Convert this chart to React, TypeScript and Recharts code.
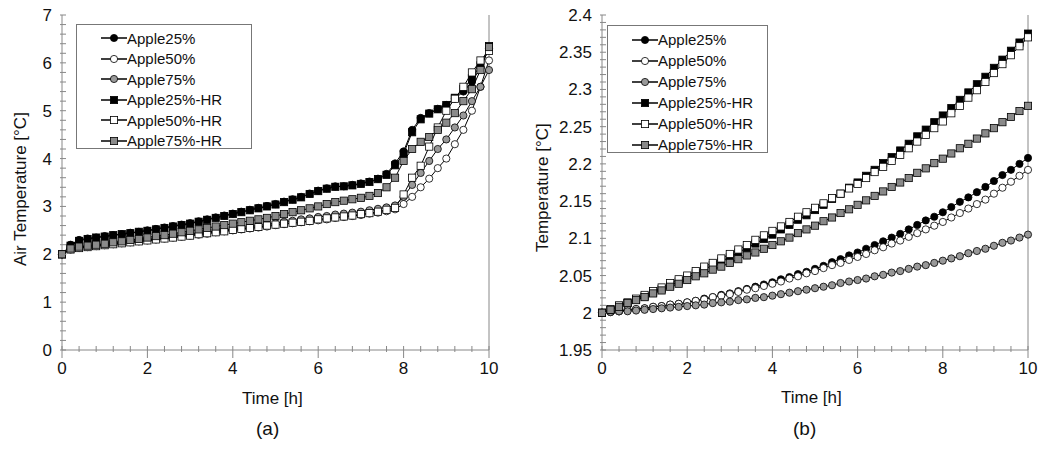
import React from "react";
import { LineChart, Line, XAxis, YAxis } from "recharts";

const time = [0,0.2,0.4,0.6,0.8,1,1.2,1.4,1.6,1.8,2,2.2,2.4,2.6,2.8,3,3.2,3.4,3.6,3.8,4,4.2,4.4,4.6,4.8,5,5.2,5.4,5.6,5.8,6,6.2,6.4,6.6,6.8,7,7.2,7.4,7.6,7.8,8,8.2,8.4,8.6,8.8,9,9.2,9.4,9.6,9.8,10];

// Chart (a): air temperature
const a25 = [2.00,2.20,2.30,2.33,2.35,2.38,2.40,2.42,2.45,2.47,2.50,2.53,2.56,2.59,2.62,2.65,2.69,2.73,2.77,2.81,2.85,2.89,2.93,2.97,3.01,3.05,3.10,3.15,3.20,3.27,3.33,3.38,3.42,3.42,3.45,3.48,3.52,3.58,3.68,3.90,4.15,4.60,4.85,4.95,5.04,5.12,5.25,5.40,5.60,5.90,6.30];
const a50 = [2.00,2.10,2.13,2.15,2.17,2.19,2.21,2.23,2.25,2.27,2.29,2.31,2.33,2.35,2.37,2.39,2.41,2.43,2.46,2.48,2.50,2.52,2.54,2.56,2.58,2.61,2.63,2.65,2.67,2.69,2.71,2.73,2.76,2.78,2.80,2.82,2.85,2.87,2.90,2.94,3.05,3.20,3.40,3.58,3.80,4.00,4.30,4.60,5.00,5.50,6.05];
const a75 = [2.00,2.12,2.15,2.17,2.19,2.21,2.23,2.25,2.27,2.29,2.31,2.33,2.35,2.37,2.40,2.42,2.44,2.46,2.49,2.51,2.53,2.56,2.58,2.60,2.63,2.65,2.68,2.70,2.73,2.75,2.78,2.80,2.83,2.85,2.87,2.89,2.92,2.95,2.98,3.02,3.20,3.45,3.70,3.95,4.20,4.40,4.65,4.90,5.20,5.50,5.85];
const a25hr = [2.00,2.18,2.28,2.32,2.35,2.37,2.40,2.42,2.44,2.47,2.49,2.52,2.55,2.58,2.61,2.64,2.68,2.72,2.76,2.80,2.84,2.88,2.92,2.96,3.00,3.04,3.09,3.14,3.19,3.26,3.32,3.37,3.41,3.42,3.44,3.47,3.51,3.57,3.66,3.86,4.10,4.55,4.82,4.94,5.03,5.12,5.27,5.45,5.68,5.95,6.35];
const a50hr = [2.00,2.10,2.13,2.15,2.17,2.19,2.21,2.23,2.25,2.27,2.29,2.31,2.33,2.35,2.37,2.39,2.42,2.44,2.46,2.48,2.51,2.53,2.55,2.57,2.60,2.62,2.64,2.66,2.68,2.70,2.73,2.75,2.77,2.79,2.81,2.84,2.86,2.89,2.93,2.97,3.25,3.60,3.85,4.25,4.65,5.00,5.25,5.50,5.80,6.05,6.25];
const a75hr = [2.00,2.12,2.16,2.18,2.20,2.22,2.25,2.27,2.30,2.32,2.35,2.38,2.40,2.43,2.46,2.49,2.52,2.55,2.58,2.61,2.64,2.67,2.70,2.73,2.76,2.80,2.84,2.88,2.92,2.96,3.00,3.05,3.09,3.12,3.15,3.18,3.22,3.28,3.40,3.60,3.95,4.20,4.35,4.45,4.60,4.75,4.95,5.20,5.45,5.85,6.33];

// Chart (b): temperature
const b25 = [2.000,2.001,2.002,2.004,2.005,2.006,2.008,2.009,2.011,2.012,2.014,2.016,2.019,2.021,2.024,2.026,2.029,2.032,2.035,2.038,2.041,2.045,2.048,2.052,2.055,2.059,2.063,2.068,2.072,2.077,2.081,2.086,2.091,2.096,2.101,2.106,2.112,2.118,2.124,2.129,2.135,2.142,2.149,2.155,2.162,2.169,2.177,2.185,2.192,2.200,2.208];
const b50 = [2.000,2.001,2.002,2.004,2.005,2.006,2.008,2.009,2.011,2.012,2.014,2.016,2.018,2.021,2.023,2.025,2.028,2.031,2.033,2.036,2.039,2.042,2.046,2.049,2.053,2.056,2.060,2.064,2.067,2.071,2.075,2.079,2.084,2.088,2.093,2.097,2.102,2.107,2.112,2.117,2.122,2.128,2.134,2.140,2.146,2.152,2.160,2.168,2.176,2.184,2.192];
const b75 = [2.000,2.001,2.002,2.002,2.003,2.004,2.005,2.006,2.007,2.008,2.009,2.010,2.011,2.013,2.014,2.015,2.017,2.018,2.020,2.021,2.023,2.025,2.027,2.029,2.031,2.033,2.035,2.037,2.040,2.042,2.044,2.046,2.049,2.051,2.054,2.056,2.059,2.062,2.064,2.067,2.070,2.073,2.076,2.080,2.083,2.086,2.090,2.094,2.097,2.101,2.105];
const b25hr = [2.000,2.004,2.009,2.013,2.018,2.022,2.027,2.032,2.037,2.042,2.047,2.053,2.058,2.064,2.069,2.075,2.081,2.087,2.093,2.099,2.105,2.112,2.118,2.125,2.131,2.138,2.145,2.153,2.160,2.168,2.175,2.184,2.192,2.201,2.209,2.218,2.227,2.237,2.246,2.256,2.265,2.275,2.286,2.296,2.307,2.317,2.329,2.340,2.352,2.363,2.375];
const b50hr = [2.000,2.005,2.010,2.014,2.019,2.024,2.029,2.034,2.040,2.045,2.050,2.056,2.062,2.067,2.073,2.079,2.085,2.091,2.098,2.104,2.110,2.116,2.122,2.129,2.135,2.141,2.147,2.154,2.160,2.167,2.173,2.181,2.189,2.196,2.204,2.212,2.221,2.230,2.239,2.248,2.257,2.268,2.278,2.289,2.299,2.310,2.322,2.334,2.346,2.358,2.370];
const b75hr = [2.000,2.004,2.008,2.013,2.017,2.021,2.026,2.030,2.035,2.039,2.044,2.049,2.053,2.058,2.062,2.067,2.072,2.077,2.081,2.086,2.091,2.096,2.101,2.107,2.112,2.117,2.123,2.128,2.134,2.139,2.145,2.151,2.157,2.163,2.169,2.175,2.181,2.188,2.194,2.201,2.207,2.214,2.221,2.227,2.234,2.241,2.248,2.256,2.263,2.271,2.278];

const seriesNames = ["Apple25%","Apple50%","Apple75%","Apple25%-HR","Apple50%-HR","Apple75%-HR"];
const xTicks = [0,0.4,0.8,1.2,1.6,2,2.4,2.8,3.2,3.6,4,4.4,4.8,5.2,5.6,6,6.4,6.8,7.2,7.6,8,8.4,8.8,9.2,9.6,10];
const xLabels = [0,2,4,6,8,10];
const aYTicks = [0,0.2,0.4,0.6,0.8,1,1.2,1.4,1.6,1.8,2,2.2,2.4,2.6,2.8,3,3.2,3.4,3.6,3.8,4,4.2,4.4,4.6,4.8,5,5.2,5.4,5.6,5.8,6,6.2,6.4,6.6,6.8,7];
const aYLabels = [0,1,2,3,4,5,6,7];
const bYTicks = [1.95,1.96,1.97,1.98,1.99,2,2.01,2.02,2.03,2.04,2.05,2.06,2.07,2.08,2.09,2.1,2.11,2.12,2.13,2.14,2.15,2.16,2.17,2.18,2.19,2.2,2.21,2.22,2.23,2.24,2.25,2.26,2.27,2.28,2.29,2.3,2.31,2.32,2.33,2.34,2.35,2.36,2.37,2.38,2.39,2.4];
const bYLabels = ["1.95","2","2.05","2.1","2.15","2.2","2.25","2.3","2.35","2.4"];

const styles = [
  { shape: "circle", fill: "#000" },
  { shape: "circle", fill: "#fff" },
  { shape: "circle", fill: "#999" },
  { shape: "square", fill: "#000" },
  { shape: "square", fill: "#fff" },
  { shape: "square", fill: "#8a8a8a" },
];

const FONT = "'Liberation Sans', Arial, sans-serif";
const AX = "#888";

const makeDot = (shape: string, fill: string) => (p: any) => {
  const { cx, cy, index } = p;
  if (cx == null || cy == null) return <g key={index} />;
  if (shape === "circle")
    return <circle key={index} cx={cx} cy={cy} r={3.6} fill={fill} stroke="#000" strokeWidth={0.8} />;
  return <rect key={index} x={cx - 3.6} y={cy - 3.6} width={7.2} height={7.2} fill={fill} stroke="#000" strokeWidth={0.8} />;
};

const near = (v: number, list: number[]) => list.some((l) => Math.abs(l - v) < 1e-6);

const XTick = (p: any) => {
  const { x, y, payload } = p;
  const major = near(payload.value, xLabels);
  return (
    <g>
      <line x1={x} x2={x} y1={y - 6 - (major ? 6 : 0)} y2={major ? y - 6 + 6 : y - 6 - 6} stroke={AX} />
      {major && (
        <text x={x} y={y + 16} textAnchor="middle" fontSize={17} fill="#111" fontFamily={FONT}>{payload.value}</text>
      )}
    </g>
  );
};

const makeYTick = (labels: number[] | string[]) => (p: any) => {
  const { x, y, payload } = p;
  const nums = (labels as any[]).map(Number);
  const major = near(payload.value, nums);
  const idx = nums.findIndex((n) => Math.abs(n - payload.value) < 1e-6);
  return (
    <g>
      <line x1={x + 6} x2={major ? x + 12 : x + 12} y1={y} y2={y} stroke={AX} />
      {major && (
        <text x={x - 2} y={y + 6} textAnchor="end" fontSize={17} fill="#111" fontFamily={FONT}>{String((labels as any[])[idx])}</text>
      )}
    </g>
  );
};

function Panel({ series, yDomain, yTicks, yLabels, yTitle, letter, legend }: any) {
  const data = time.map((t, i) => {
    const row: any = { t };
    series.forEach((s: number[], k: number) => (row["s" + k] = s[i]));
    return row;
  });
  return (
    <LineChart width={520} height={449} data={data} margin={{ top: 15, right: 0, bottom: 69, left: 0 }}>
      <XAxis dataKey="t" type="number" domain={[0, 10]} ticks={xTicks} interval={0} tick={<XTick />} tickLine={false} axisLine={{ stroke: AX }} height={30} />
      <XAxis xAxisId="top" orientation="top" dataKey="t" type="number" domain={[0, 10]} tick={false} tickLine={false} axisLine={{ stroke: AX }} height={0} />
      <YAxis type="number" domain={yDomain} ticks={yTicks} interval={0} tick={makeYTick(yLabels)} tickLine={false} axisLine={{ stroke: AX }} width={yTitle.w} allowDataOverflow />
      <YAxis yAxisId="r" orientation="right" type="number" domain={yDomain} tick={false} tickLine={false} axisLine={{ stroke: AX }} width={yTitle.r} />
      {series.map((_: any, k: number) => (
        <Line key={k} dataKey={"s" + k} stroke="#000" strokeWidth={1} isAnimationActive={false}
          dot={makeDot(styles[k].shape, styles[k].fill)} />
      ))}
    </LineChart>
  );
}

function Legend({ left, top, width, height, rowH }: any) {
  return (
    <div style={{ position: "absolute", left, top, width, height, border: "1px solid #777", background: "#fff", boxSizing: "border-box", paddingTop: 3 }}>
      {seriesNames.map((n, k) => (
        <div key={n} style={{ display: "flex", alignItems: "center", height: rowH, paddingLeft: 24 }}>
          <svg width={26} height={12}>
            <line x1={0} x2={26} y1={6} y2={6} stroke="#000" strokeWidth={1.5} />
            {styles[k].shape === "circle"
              ? <circle cx={13} cy={6} r={3.6} fill={styles[k].fill} stroke="#000" strokeWidth={0.8} />
              : <rect x={9.4} y={2.4} width={7.2} height={7.2} fill={styles[k].fill} stroke="#000" strokeWidth={0.8} />}
          </svg>
          <span style={{ fontSize: 15, fontFamily: FONT, color: "#111" }}>{n}</span>
        </div>
      ))}
    </div>
  );
}

const abs = (l: number, t: number, extra: any = {}) => ({ position: "absolute" as const, left: l, top: t, fontFamily: FONT, color: "#111", ...extra });

export default function App() {
  return (
    <div style={{ position: "fixed", left: 0, top: 0, width: 1039, height: 449, background: "#fff", overflow: "hidden" }}>
      <div style={{ position: "absolute", left: 0, top: 0 }}>
        <Panel series={[a25, a50, a75, a25hr, a50hr, a75hr]} yDomain={[0, 7]} yTicks={aYTicks} yLabels={aYLabels}
          yTitle={{ w: 62, r: 31 }} />
      </div>
      <div style={{ position: "absolute", left: 520, top: 0 }}>
        <Panel series={[b25, b50, b75, b25hr, b50hr, b75hr]} yDomain={[1.95, 2.4]} yTicks={bYTicks} yLabels={bYLabels}
          yTitle={{ w: 82, r: 12 }} />
      </div>
      <Legend left={76} top={24} width={176} height={125} rowH={20.5} />
      <Legend left={607} top={25} width={161} height={128} rowH={21} />
      <div style={abs(12, 182, { fontSize: 17, transform: "rotate(-90deg)", transformOrigin: "left top", whiteSpace: "nowrap", top: 266, left: 11 })}>Air Temperature [°C]</div>
      <div style={abs(532, 250, { fontSize: 17, transform: "rotate(-90deg)", transformOrigin: "left top", whiteSpace: "nowrap", left: 533, top: 252 })}>Temperature [°C]</div>
      <div style={abs(242, 389, { fontSize: 17, fontWeight: "normal" })}>Time [h]</div>
      <div style={abs(781, 388, { fontSize: 17 })}>Time [h]</div>
      <div style={abs(256, 418, { fontSize: 19 })}>(a)</div>
      <div style={abs(793, 418, { fontSize: 19 })}>(b)</div>
    </div>
  );
}
